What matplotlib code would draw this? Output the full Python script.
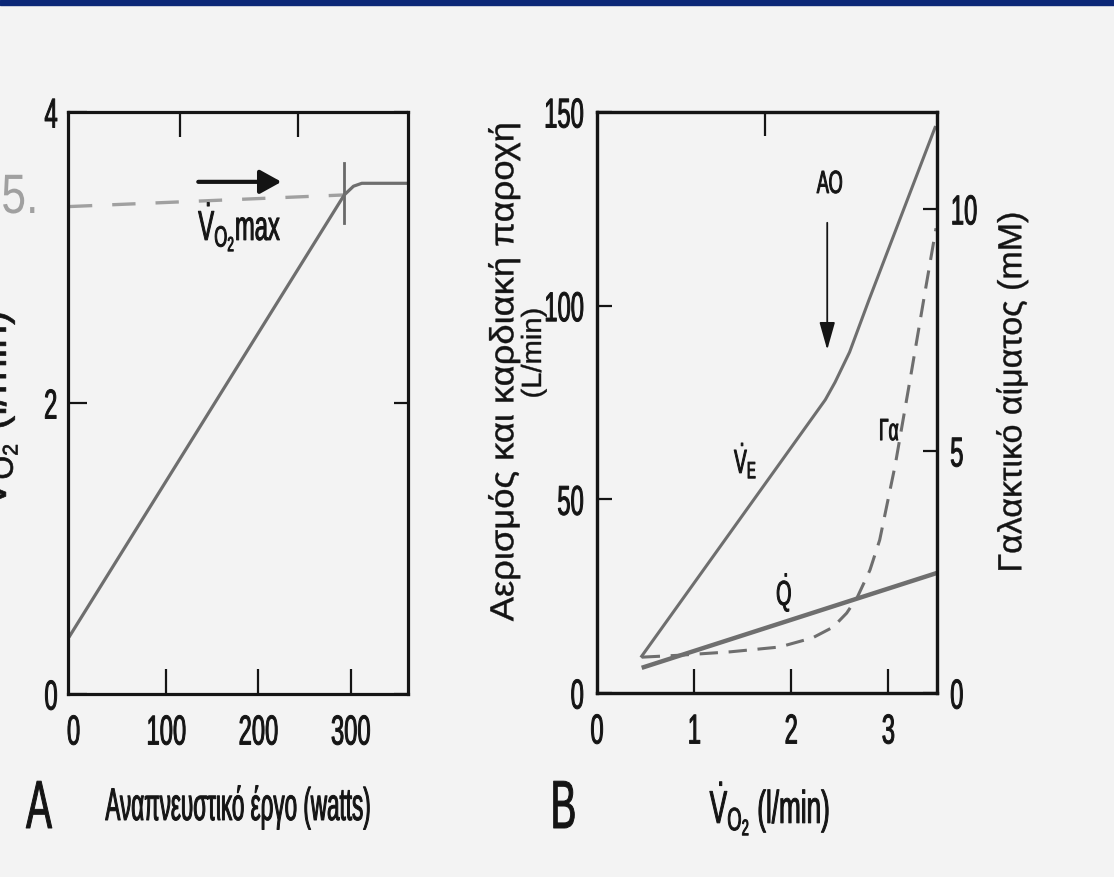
import matplotlib
matplotlib.use('Agg')
import matplotlib.pyplot as plt
from matplotlib.patheffects import AbstractPathEffect
from matplotlib.transforms import Affine2D
from matplotlib.patches import Rectangle
from matplotlib.ticker import FixedLocator

plt.rcParams['font.family'] = ['Liberation Sans', 'DejaVu Sans']
plt.rcParams['mathtext.fontset'] = 'custom'
plt.rcParams['mathtext.rm'] = 'Liberation Sans'
plt.rcParams['mathtext.it'] = 'Liberation Sans'
plt.rcParams['mathtext.default'] = 'regular'

# --- panel A: oxygen uptake against work rate ---
work_w = [-5, 293, 303, 312, 362]
vo2_lmin = [0.39, 3.43, 3.49, 3.51, 3.51]
vo2max_w = 293
guide_w = [-5, 293]            # pencil guide towards VO2max
guide_l = [3.35, 3.43]
mark_l = [3.24, 3.65]          # pencil tick across the break point
a_xticks = [0, 100, 200, 300]
a_yticks = [0, 2, 4]

# --- panel B: ventilation, cardiac output, lactate against VO2 ---
ve_x = [0.46, 2.35, 2.45, 2.60, 2.80, 3.48]
ve_y = [9.5, 75.7, 80.2, 88.0, 101.5, 146.0]
q_x = [0.46, 3.50]
q_y = [6.5, 31.0]
lac_x = [0.46, 0.85, 1.37, 1.88, 2.22, 2.43, 2.57, 2.68, 2.81, 2.91, 3.07, 3.24, 3.38, 3.49]
lac_y = [0.74, 0.78, 0.85, 0.95, 1.14, 1.36, 1.65, 1.98, 2.54, 3.16, 4.71, 6.67, 8.32, 9.6]
at_x = 2.37                    # anaerobic threshold arrow
at_y = [121.4, 88.6]
b_xticks = [0, 1, 2, 3]
b_yticks = [0, 50, 100, 150]
lac_ticks = [0, 5, 10]

INK = '#141414'
GREY = '#6e6e6e'
W, H = 1114, 877


class Narrow(AbstractPathEffect):
    """Squeeze glyphs along the reading direction and thicken them a little."""

    def __init__(self, sx=0.57, anchor='center', lw=0.7):
        super().__init__()
        self.sx = sx
        self.anchor = anchor
        self.lw = lw

    def draw_path(self, renderer, gc, tpath, affine, rgbFace=None):
        ext = tpath.get_extents()
        x0 = {'left': ext.x0, 'right': ext.x1}.get(self.anchor, (ext.x0 + ext.x1) / 2)
        squeeze = Affine2D().translate(-x0, 0).scale(self.sx, 1).translate(x0, 0)
        gc0 = renderer.new_gc()
        gc0.copy_properties(gc)
        gc0.set_linewidth(self.lw)
        gc0.set_foreground(rgbFace)
        gc0.set_joinstyle('round')
        renderer.draw_path(gc0, tpath, squeeze + affine, rgbFace)
        gc0.restore()


def narrow(texts, anchor='center', sx=0.57, lw=0.7):
    for t in texts:
        t.set_path_effects([Narrow(sx, anchor, lw)])


def ftext(x, y, s, size, sx=0.57, lw=0.7, **kw):
    kw.setdefault('ha', 'center')
    kw.setdefault('va', 'baseline')
    kw.setdefault('color', INK)
    t = fig.text(x / W, 1 - y / H, s, fontsize=size, **kw)
    narrow([t], sx=sx, lw=lw)
    return t


def frame(ax):
    for sp in ax.spines.values():
        sp.set_linewidth(2.3)
        sp.set_color(INK)
    ax.set_facecolor('none')
    ax.tick_params(which='both', direction='in', width=1.6, color=INK,
                   labelcolor=INK, labelsize=30)


fig = plt.figure(figsize=(W / 100, H / 100), dpi=100, facecolor='#f3f3f3')
fig.add_artist(Rectangle((0, 1 - 5 / H), 1, 5 / H, transform=fig.transFigure,
                         color='#0b2777', zorder=5))

# ---------------- panel A ----------------
axA = fig.add_axes([68 / W, 1 - 694 / H, 340 / W, 582 / H])
frame(axA)
axA.set_xlim(-6, 362)
axA.set_ylim(0, 4)
axA.set_xticks(a_xticks, [str(v) for v in a_xticks])
axA.set_yticks(a_yticks, [str(v) for v in a_yticks])
axA.xaxis.set_minor_locator(FixedLocator([115, 243]))
axA.tick_params(axis='x', which='major', length=18, pad=14)
axA.tick_params(axis='x', which='minor', bottom=False, top=True, length=18)
axA.tick_params(axis='y', which='major', length=14, pad=7, right=True)
axA.xaxis.get_major_ticks()[0].tick1line.set_visible(False)
for t in axA.yaxis.get_major_ticks():
    t.tick2line.set_markersize(10)
narrow(axA.get_xticklabels())
narrow(axA.get_yticklabels(), 'right')

axA.plot(guide_w, guide_l, color='#8c8c8c', lw=2.4, dashes=(7, 6), alpha=0.8)
axA.plot([vo2max_w, vo2max_w], mark_l, color='#5a5a5a', lw=2.0, alpha=0.9)
axA.plot(work_w, vo2_lmin, color=GREY, lw=2.3, solid_capstyle='butt')

axA.annotate('', xy=(225, 3.52), xytext=(135, 3.52),
             arrowprops=dict(arrowstyle='-|>,head_length=0.65,head_width=0.36',
                             lw=3, color=INK, mutation_scale=20,
                             shrinkA=0, shrinkB=0))
narrow([axA.text(180, 3.12, r'$\dot{V}_{O_2}$max', fontsize=30, ha='center',
                 va='baseline', color=INK)])

# ---------------- panel B ----------------
axB = fig.add_axes([597 / W, 1 - 693 / H, 340 / W, 581 / H])
frame(axB)
axB.set_xlim(0, 3.5)
axB.set_ylim(0, 150)
axB.set_xticks(b_xticks, [str(v) for v in b_xticks])
axB.set_yticks(b_yticks, [str(v) for v in b_yticks])
axB.xaxis.set_minor_locator(FixedLocator([1.73]))
axB.tick_params(axis='x', which='major', length=17, pad=14)
axB.tick_params(axis='x', which='minor', bottom=False, top=True, length=17)
axB.tick_params(axis='y', which='major', length=11, pad=9)
axB.xaxis.get_major_ticks()[0].tick1line.set_visible(False)
narrow(axB.get_xticklabels())
narrow(axB.get_yticklabels(), 'right')

axR = axB.twinx()
frame(axR)
axR.set_ylim(0, 12)
axR.set_yticks(lac_ticks, [str(v) for v in lac_ticks])
axR.tick_params(axis='y', length=10, pad=9)
narrow(axR.get_yticklabels(), 'left')

axB.plot(ve_x, ve_y, color=GREY, lw=2.2)
axB.plot(q_x, q_y, color=GREY, lw=3.2, solid_capstyle='butt')
axR.plot(lac_x, lac_y, color=GREY, lw=2.2, dashes=(6, 3.5))

axB.annotate('', xy=(at_x, at_y[1]), xytext=(at_x, at_y[0]),
             arrowprops=dict(arrowstyle='-|>,head_length=0.85,head_width=0.24',
                             lw=1.3, color=INK, mutation_scale=20,
                             shrinkA=0, shrinkB=0))
for x, y, s, size in [(2.40, 129.1, 'ΑΟ', 23), (1.53, 56.8, r'$\dot{V}_E$', 24),
                      (1.925, 22.7, r'$\dot{Q}$', 25), (3.0, 65.3, 'Γα', 22)]:
    narrow([axB.text(x, y, s, fontsize=size, ha='center', va='baseline', color=INK)])

# ---------------- labels round the panels ----------------
ftext(39, 828, 'A', 49)
ftext(239, 820, 'Αναπνευστικό έργο (watts)', 33, sx=0.49)
ftext(563, 828, 'B', 49)
ftext(770, 823, r'$\dot{V}_{O_2}$ (l/min)', 33)
ftext(6, 410, r'$\dot{V}_{O_2}$ (l/min)', 31, sx=1.0, lw=0.5, rotation=90,
      rotation_mode='anchor')
ftext(504, 372, 'Αερισμός και καρδιακή παροχή', 24, sx=1.09, lw=0.3,
      rotation=90, va='center')
ftext(534, 353, '(L/min)', 20, sx=1.05, lw=0.3, rotation=90, va='center')
ftext(1012, 392, 'Γαλακτικό αίματος (mM)', 24, sx=1.02, lw=0.3,
      rotation=90, va='center')
ftext(-3, 213, '5.', 40, sx=0.8, lw=0, ha='left', color='#a0a0a0')

fig.savefig('out.png', dpi=100, facecolor=fig.get_facecolor())
